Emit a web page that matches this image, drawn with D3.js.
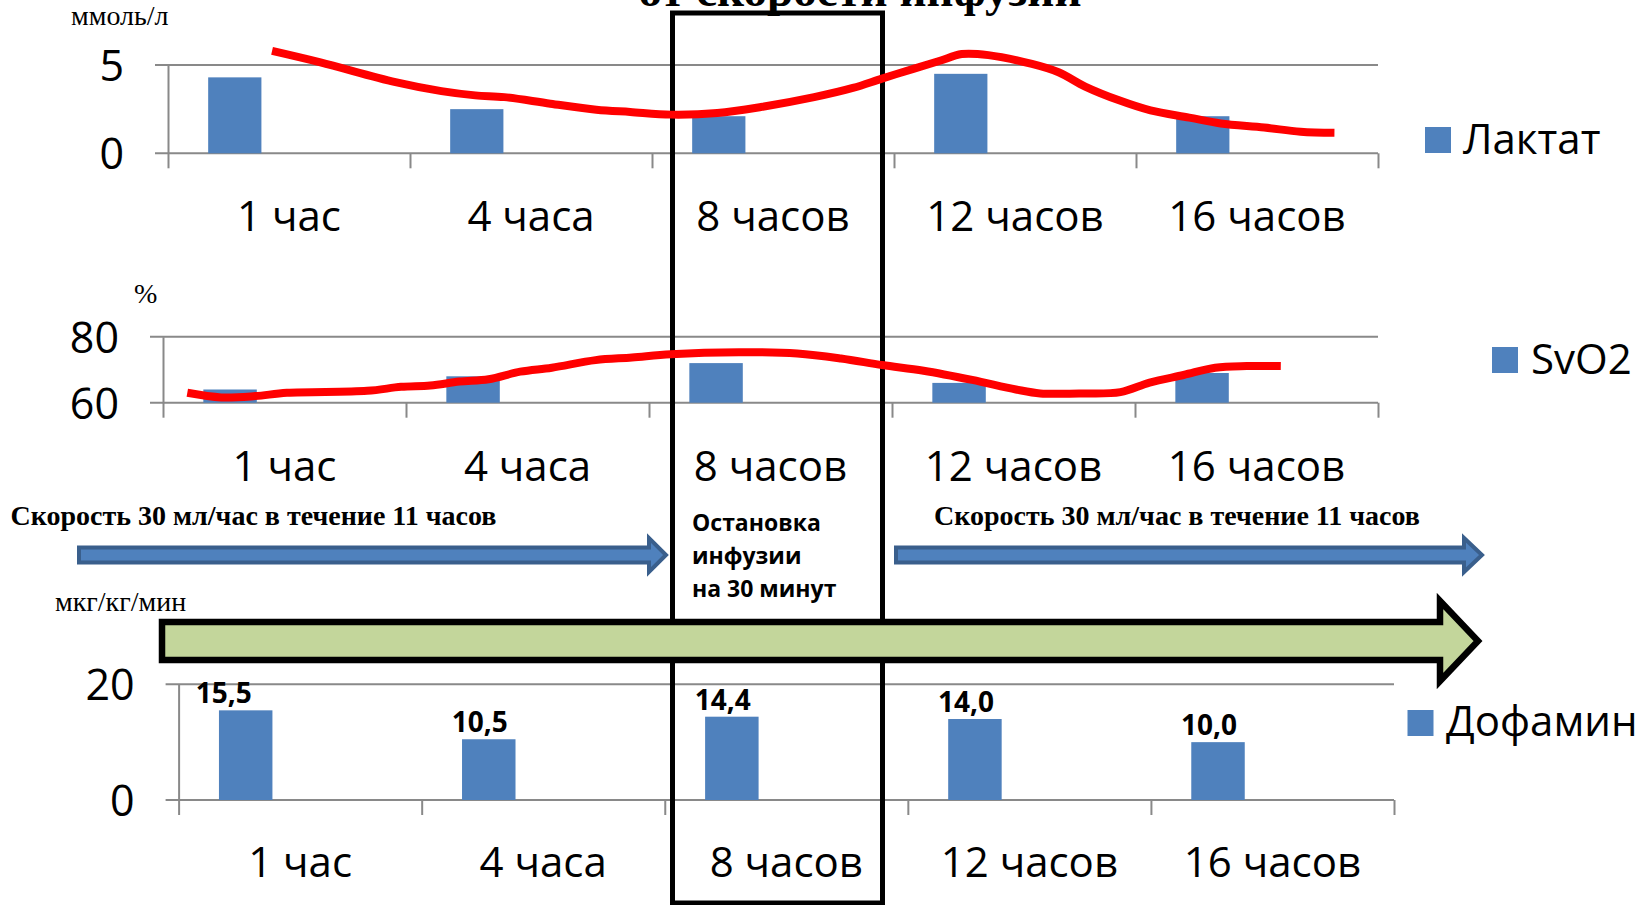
<!DOCTYPE html>
<html><head><meta charset="utf-8">
<script src="https://cdn.jsdelivr.net/npm/d3@7"></script>
<style>
html,body{margin:0;padding:0;background:#fff;}
svg{display:block;}
</style></head><body>
<svg id="chart" width="1647" height="905"></svg>
<script>
// ---- data ----
const categories = ["1 час", "4 часа", "8 часов", "12 часов", "16 часов"];
const lactate = [4.3, 2.5, 2.1, 4.5, 2.1];
const svo2 = [64, 68, 72, 66, 69];
const dopamine = [15.5, 10.5, 14.4, 14.0, 10.0];
const dopamineLabels = ["15,5", "10,5", "14,4", "14,0", "10,0"];
const lactateTicks = [0, 5];
const svo2Ticks = [60, 80];
const dopamineTicks = [0, 20];

// hand-drawn trend curves: position along the category axis (0..5) and value
const lactateTrendPos = [0.43, 0.63, 0.94, 1.13, 1.27, 1.39, 1.58, 1.77, 1.91, 2.08, 2.27, 2.45, 2.67, 2.83, 2.95, 3.08, 3.19, 3.28, 3.39, 3.57, 3.68, 3.79, 3.93, 4.06, 4.22, 4.35, 4.53, 4.68, 4.82];
const lactateTrendVal = [5.8, 5.15, 4.03, 3.52, 3.28, 3.18, 2.81, 2.47, 2.34, 2.19, 2.28, 2.62, 3.18, 3.7, 4.23, 4.78, 5.24, 5.62, 5.56, 5.06, 4.59, 3.78, 3.0, 2.43, 2.02, 1.69, 1.46, 1.22, 1.16];
const svo2TrendPos = [0.10, 0.24, 0.38, 0.51, 0.84, 0.98, 1.10, 1.22, 1.34, 1.47, 1.60, 1.78, 1.93, 2.09, 2.37, 2.61, 2.79, 2.96, 3.13, 3.33, 3.51, 3.61, 3.77, 3.94, 4.06, 4.20, 4.33, 4.46, 4.60];
const svo2TrendVal = [63.0, 61.6, 62.0, 63.0, 63.6, 64.8, 65.2, 66.4, 67.1, 69.4, 70.6, 72.9, 73.7, 74.7, 75.3, 74.9, 73.4, 71.4, 69.7, 66.9, 64.0, 62.8, 62.8, 63.2, 66.1, 68.4, 70.6, 71.1, 71.1];

// ---- styles ----
const BAR = "#4F81BD", GRID = "#898989", RED = "#FF0000";
const SANS = "'Open Sans', 'Noto Sans', sans-serif";
const SERIF = "'Liberation Serif', 'Times New Roman', serif";

const svg = d3.select("#chart");

// title (upper line lies above the canvas)
svg.append("text").attr("x", 860).attr("y", 6).attr("text-anchor", "middle")
  .style("font-family", SERIF).style("font-weight", "bold").style("font-size", "47px")
  .text("от скорости инфузии");

const panels = [
  { name: "Лактат", values: lactate, ticks: lactateTicks, domain: [0, 5],
    x0: 168, x1: 1378, yTop: 65, yBase: 153.3, catBaseline: 231,
    legend: { sx: 1425, sy: 127, tx: 1463, ty: 153.5 },
    trend: { pos: lactateTrendPos, val: lactateTrendVal } },
  { name: "SvO2", values: svo2, ticks: svo2Ticks, domain: [60, 80],
    x0: 163, x1: 1378, yTop: 336.7, yBase: 402.7, catBaseline: 481,
    legend: { sx: 1492, sy: 347, tx: 1531, ty: 374 },
    trend: { pos: svo2TrendPos, val: svo2TrendVal } },
  { name: "Дофамин", values: dopamine, ticks: dopamineTicks, domain: [0, 20],
    x0: 178.6, x1: 1394, yTop: 684.3, yBase: 800, catBaseline: 877,
    legend: { sx: 1407.5, sy: 710, tx: 1446, ty: 736 },
    labels: dopamineLabels }
];

const trendLayer = [];

panels.forEach(p => {
  const g = svg.append("g");
  const x = d3.scaleBand().domain(categories).range([p.x0, p.x1]).padding(0);
  const xLin = d3.scaleLinear().domain([0, categories.length]).range([p.x0, p.x1]);
  const y = d3.scaleLinear().domain(p.domain).range([p.yBase, p.yTop]);
  const bw = x.bandwidth();

  // horizontal grid lines (including the baseline)
  g.selectAll("line.grid").data(p.ticks).join("line")
    .attr("x1", p.x0 - 13).attr("x2", p.x1)
    .attr("y1", d => y(d)).attr("y2", d => y(d))
    .attr("stroke", GRID).attr("stroke-width", 2);

  // bars
  g.selectAll("rect.bar").data(p.values).join("rect")
    .attr("x", (d, i) => x(categories[i]) + bw * 0.166)
    .attr("width", bw * 0.22)
    .attr("y", d => y(d))
    .attr("height", d => y(p.domain[0]) - y(d))
    .attr("fill", BAR);

  // category boundary ticks
  const xAxis = d3.axisBottom(xLin).tickValues(d3.range(categories.length + 1))
    .tickSize(15).tickSizeOuter(0).tickFormat("");
  const xa = g.append("g").attr("transform", `translate(0,${p.yBase})`).call(xAxis);
  xa.select(".domain").remove();
  xa.selectAll(".tick line").attr("stroke", GRID).attr("stroke-width", 2);

  // value axis
  const yAxis = d3.axisLeft(y).tickValues(p.ticks).tickSize(0).tickPadding(44)
    .tickFormat(d3.format("d"));
  const ya = g.append("g").attr("transform", `translate(${p.x0},0)`).call(yAxis);
  ya.select(".domain").attr("stroke", GRID).attr("stroke-width", 2);
  ya.selectAll(".tick text").style("font-family", SANS).style("font-size", "43px")
    .attr("fill", "#000").attr("dy", "0.36em");

  // category labels
  g.selectAll("text.cat").data(categories).join("text")
    .attr("x", d => x(d) + bw / 2).attr("y", p.catBaseline)
    .attr("text-anchor", "middle")
    .style("font-family", SANS).style("font-size", "42px")
    .text(d => d);

  // value labels
  if (p.labels) {
    g.selectAll("text.val").data(p.values).join("text")
      .attr("x", (d, i) => x(categories[i]) + bw * 0.276 - (i === 0 ? 22 : 9))
      .attr("y", d => y(d) - 7)
      .attr("text-anchor", "middle")
      .style("font-family", SANS).style("font-weight", "bold").style("font-size", "28px")
      .text((d, i) => p.labels[i]);
  }

  // legend
  g.append("rect").attr("x", p.legend.sx).attr("y", p.legend.sy)
    .attr("width", 26).attr("height", 26).attr("fill", BAR);
  g.append("text").attr("x", p.legend.tx).attr("y", p.legend.ty)
    .style("font-family", SANS).style("font-size", "42px").text(p.name);

  if (p.trend) trendLayer.push({ p, xLin, y });
});

// unit captions
const units = [
  { t: "ммоль/л", x: 71, y: 25, s: 28 },
  { t: "%", x: 134, y: 303, s: 28 },
  { t: "мкг/кг/мин", x: 55, y: 611, s: 28 }
];
svg.selectAll("text.unit").data(units).join("text")
  .attr("x", d => d.x).attr("y", d => d.y)
  .style("font-family", SERIF).style("font-size", d => d.s + "px").text(d => d.t);

// frame around the infusion pause
svg.append("rect").attr("x", 672.5).attr("y", 13).attr("width", 210).attr("height", 890)
  .attr("fill", "none").attr("stroke", "#000").attr("stroke-width", 5);

// trend curves
trendLayer.forEach(({ p, xLin, y }) => {
  const pts = p.trend.pos.map((v, i) => [xLin(v), y(p.trend.val[i])]);
  svg.append("path").attr("d", d3.line().curve(d3.curveCatmullRom.alpha(0.5))(pts))
    .attr("fill", "none").attr("stroke", RED).attr("stroke-width", 8);
});

// infusion rate captions
const rateText = "Скорость 30 мл/час в течение 11 часов";
[10.5, 934].forEach(x0 => {
  svg.append("text").attr("x", x0).attr("y", 525)
    .style("font-family", SERIF).style("font-weight", "bold").style("font-size", "28px")
    .text(rateText);
});

// pause caption
const pauseLines = ["Остановка", "инфузии", "на 30 минут"];
svg.selectAll("text.pause").data(pauseLines).join("text")
  .attr("x", 692).attr("y", (d, i) => 531 + i * 33)
  .style("font-family", SANS).style("font-weight", "bold").style("font-size", "23px")
  .text(d => d);

// infusion arrows
function blockArrow(x0, xHead, xTip, cy, shaftH, headH) {
  const p = d3.path();
  p.moveTo(x0, cy - shaftH / 2);
  p.lineTo(xHead, cy - shaftH / 2);
  p.lineTo(xHead, cy - headH / 2);
  p.lineTo(xTip, cy);
  p.lineTo(xHead, cy + headH / 2);
  p.lineTo(xHead, cy + shaftH / 2);
  p.lineTo(x0, cy + shaftH / 2);
  p.closePath();
  return p.toString();
}
[[79, 649, 666], [896, 1464, 1482]].forEach(([a, b, c]) => {
  svg.append("path").attr("d", blockArrow(a, b, c, 555, 15, 34))
    .attr("fill", BAR).attr("stroke", "#3A5F8C").attr("stroke-width", 4)
    .attr("stroke-linejoin", "miter");
});

// dopamine arrow
svg.append("path").attr("d", blockArrow(162, 1440, 1478, 641, 38, 80))
  .attr("fill", "#C3D69B").attr("stroke", "#000").attr("stroke-width", 6.5)
  .attr("stroke-linejoin", "miter");
</script>
</body></html>
